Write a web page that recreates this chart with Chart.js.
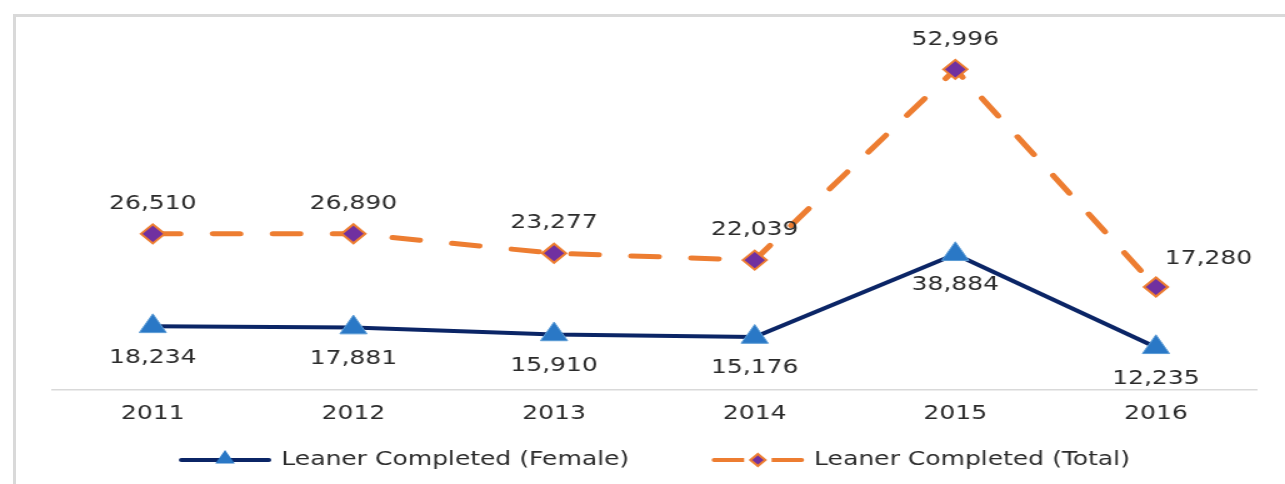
<!DOCTYPE html>
<html>
<head>
<meta charset="utf-8">
<script src="https://cdn.jsdelivr.net/npm/chart.js@4.4.1/dist/chart.umd.min.js"></script>
<style>
  html, body { margin: 0; padding: 0; background: #fff; overflow: hidden; }
  #wrap { position: relative; width: 1285px; height: 484px; }
  #frame { position: absolute; left: 13px; top: 14px; width: 1400px; height: 600px;
           border-left: 3px solid #d9d9d9; border-top: 3px solid #d9d9d9; }
  /* the chart is drawn narrow and widened, so text and markers come out stretched */
  #c { position: absolute; left: 0; top: 0; transform: scaleX(1.25); transform-origin: 0 0; }
</style>
</head>
<body>
<div id="wrap">
  <div id="frame"></div>
  <canvas id="c" width="1028" height="484"></canvas>
</div>
<script>
const years = ['2011', '2012', '2013', '2014', '2015', '2016'];
const femaleCompleted = [18234, 17881, 15910, 15176, 38884, 12235];
const totalCompleted = [26510, 26890, 23277, 22039, 52996, 17280];
const seriesNames = ['Leaner Completed (Female)', 'Leaner Completed (Total)'];

const FONT = '"DejaVu Sans", Verdana, sans-serif';
const TEXT = '#2b2b2b';
const NAVY = '#0b2566';
const BLUE = '#2a78c6';
const ORANGE = '#ed7d31';
const PURPLE = '#7030a0';

function fmt(v) {
    return v.toLocaleString('en-US');
}

// value labels: female below its points, total above (last one up and to the right)
const valueLabels = {
    id: 'valueLabels',
    afterDatasetsDraw(chart) {
        const ctx = chart.ctx;
        ctx.save();
        ctx.font = '20px ' + FONT;
        ctx.fillStyle = TEXT;
        ctx.textAlign = 'center';
        ctx.textBaseline = 'middle';
        chart.data.datasets.forEach((ds, di) => {
            const meta = chart.getDatasetMeta(di);
            meta.data.forEach((pt, i) => {
                let x = pt.x, y = pt.y;
                if (di === 0) {
                    y += 31;
                } else if (i === ds.data.length - 1) {
                    x += 42; y -= 28;
                } else {
                    y -= 30;
                }
                ctx.fillText(fmt(ds.data[i]), x, y);
            });
        });
        ctx.restore();
    }
};

function triangle(ctx, x, y, r) {
    ctx.beginPath();
    ctx.moveTo(x, y - r);
    ctx.lineTo(x + r * 0.866, y + r / 2);
    ctx.lineTo(x - r * 0.866, y + r / 2);
    ctx.closePath();
}

function diamond(ctx, x, y, r) {
    ctx.beginPath();
    ctx.moveTo(x, y - r);
    ctx.lineTo(x + r, y);
    ctx.lineTo(x, y + r);
    ctx.lineTo(x - r, y);
    ctx.closePath();
}

// legend row: line sample with marker, then the series name
const lineLegend = {
    id: 'lineLegend',
    afterDraw(chart) {
        const ctx = chart.ctx;
        const sampleW = 74, textGap = 8, itemGap = 66, y = 460;
        ctx.save();
        ctx.font = '20px ' + FONT;
        const widths = seriesNames.map(n => ctx.measureText(n).width);
        const full = widths.reduce((a, w) => a + sampleW + textGap + w, 0) + itemGap;
        let x = (chart.chartArea.left + chart.chartArea.right) / 2 - full / 2;
        seriesNames.forEach((name, i) => {
            ctx.lineCap = 'round';
            ctx.lineWidth = 4;
            ctx.strokeStyle = i === 0 ? NAVY : ORANGE;
            ctx.beginPath();
            ctx.moveTo(x + 2, y);
            ctx.lineTo(x + sampleW - 2, y);
            ctx.stroke();
            const cx = x + sampleW / 2;
            if (i === 0) {
                triangle(ctx, cx, y - 1, 9);
                ctx.fillStyle = BLUE;
                ctx.fill();
            } else {
                ctx.fillStyle = '#fff';
                ctx.fillRect(cx - 11, y - 4, 22, 8);
                diamond(ctx, cx, y, 6);
                ctx.fillStyle = PURPLE;
                ctx.fill();
                ctx.lineWidth = 2;
                ctx.strokeStyle = ORANGE;
                ctx.stroke();
            }
            ctx.fillStyle = TEXT;
            ctx.textAlign = 'left';
            ctx.textBaseline = 'middle';
            ctx.fillText(name, x + sampleW + textGap, y);
            x += sampleW + textGap + widths[i] + itemGap;
        });
        ctx.restore();
    }
};

new Chart(document.getElementById('c'), {
    type: 'line',
    data: {
        labels: years,
        datasets: [{
            label: seriesNames[0],
            data: femaleCompleted,
            borderColor: NAVY,
            borderWidth: 4,
            tension: 0,
            fill: false,
            pointStyle: 'triangle',
            pointRadius: 12.5,
            pointBackgroundColor: BLUE,
            pointBorderColor: '#5b9bd5',
            pointBorderWidth: 1
        }, {
            label: seriesNames[1],
            data: totalCompleted,
            borderColor: ORANGE,
            borderWidth: 5,
            borderDash: [22, 26],
            borderCapStyle: 'round',
            tension: 0,
            fill: false,
            pointStyle: 'rectRot',
            pointRadius: 9.5,
            pointBackgroundColor: PURPLE,
            pointBorderColor: ORANGE,
            pointBorderWidth: 2
        }]
    },
    options: {
        responsive: false,
        animation: false,
        devicePixelRatio: 1,
        layout: { padding: { left: 42, right: 23, top: 41, bottom: 58 } },
        plugins: {
            legend: { display: false },
            tooltip: { enabled: false }
        },
        scales: {
            x: {
                offset: true,
                grid: { display: false, drawTicks: false },
                border: { display: true, color: '#d9d9d9', width: 1.5 },
                ticks: { color: TEXT, font: { family: FONT, size: 20 }, padding: 12 },
                afterFit: s => { s.height = 36; }
            },
            y: {
                display: false,
                stacked: true,
                min: 0,
                max: 100000
            }
        }
    },
    plugins: [valueLabels, lineLegend]
});
</script>
</body>
</html>
